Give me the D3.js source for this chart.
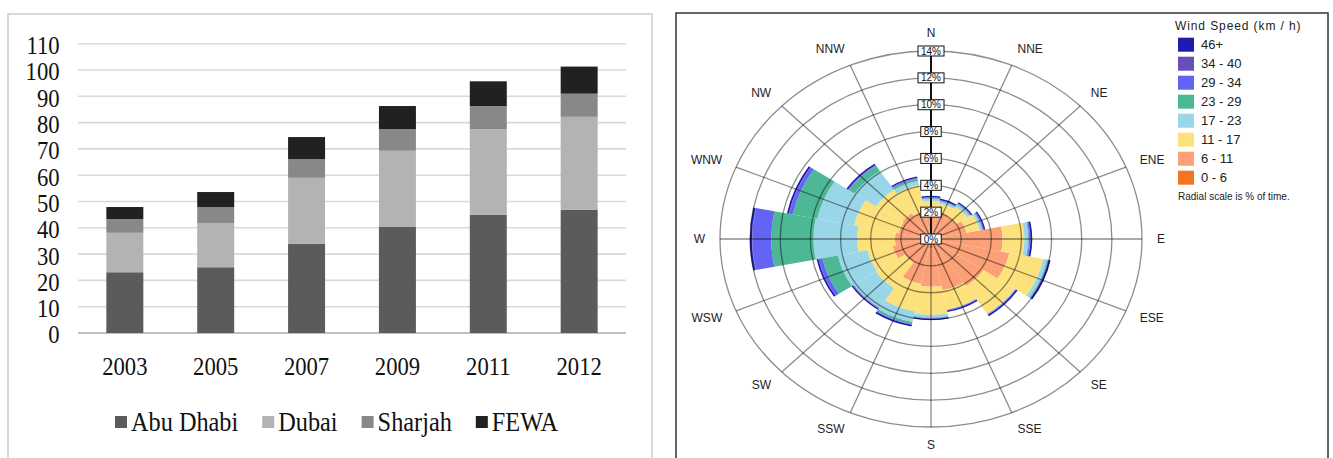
<!DOCTYPE html>
<html>
<head>
<meta charset="utf-8">
<script src="https://cdn.jsdelivr.net/npm/d3@7"></script>
<style>
  body { margin: 0; background: #fff; }
  svg { display: block; }
</style>
</head>
<body>
<svg id="chart" width="1333" height="458"></svg>
<script>
'use strict';
// ---- left chart data (stacked bars) ----
const years = ['2003', '2005', '2007', '2009', '2011', '2012'];
const utilities = ['Abu Dhabi', 'Dubai', 'Sharjah', 'FEWA'];
const abuDhabi = [23.1, 25.0, 33.9, 40.3, 45.0, 46.9];
const dubai = [15.0, 16.8, 25.1, 29.0, 32.5, 35.3];
const sharjah = [5.2, 6.1, 7.1, 8.2, 8.8, 8.8];
const fewa = [4.6, 5.7, 8.4, 8.8, 9.4, 10.3];
const yTicks = [0, 10, 20, 30, 40, 50, 60, 70, 80, 90, 100, 110];

// ---- right chart data (wind rose, % of time) ----
const directions = ['N', 'NNE', 'NE', 'ENE', 'E', 'ESE', 'SE', 'SSE',
  'S', 'SSW', 'SW', 'WSW', 'W', 'WNW', 'NW', 'NNW'];
const speedBins = ['0 - 6', '6 - 11', '11 - 17', '17 - 23', '23 - 29', '29 - 34', '34 - 40', '46+'];
const spd0to6 =   [0.3, 0.3, 0.3, 0.3, 0.3, 0.3, 0.3, 0.5, 0.7, 0.3, 0.3, 0.3, 0.3, 0.3, 0.3, 0.3];
const spd6to11 =  [1.7, 1.8, 1.7, 2.1, 4.45, 5.0, 3.9, 3.4, 2.85, 3.1, 1.8, 2.3, 2.1, 1.9, 2.0, 1.8];
const spd11to17 = [0.85, 0.6, 0.9, 0.9, 1.45, 2.3, 2.5, 1.45, 2.1, 2.1, 2.3, 1.7, 2.5, 3.0, 2.1, 2.0];
const spd17to23 = [0.15, 0.15, 0.2, 0.15, 0.25, 0.25, 0.02, 0.03, 0.2, 0.8, 1.75, 2.0, 2.9, 2.5, 1.7, 0.3];
const spd23to29 = [0.05, 0.05, 0.05, 0.05, 0.05, 0.05, 0.02, 0.02, 0.03, 0.15, 0.03, 1.05, 2.8, 1.65, 0.45, 0.15];
const spd29to34 = [0.05, 0.05, 0.03, 0.05, 0.07, 0.05, 0.03, 0.03, 0.04, 0.05, 0.04, 0.25, 1.25, 0.25, 0.05, 0.07];
const spd34to40 = [0.02, 0.02, 0.02, 0.02, 0.03, 0.02, 0.02, 0.02, 0.02, 0.02, 0.02, 0.02, 0.03, 0.03, 0.03, 0.03];
const spd46plus = [0.1, 0.1, 0.1, 0.1, 0.12, 0.12, 0.12, 0.1, 0.1, 0.12, 0.1, 0.12, 0.14, 0.12, 0.12, 0.1];
const ringTicks = [0, 2, 4, 6, 8, 10, 12, 14];

// colours
const barColors = ['#5b5b5b', '#b3b3b3', '#888888', '#212121'];
const binColors = ['#f27621', '#fba077', '#fde17c', '#98d6e8', '#4cb895', '#6363f5', '#6550b8', '#1c1cae'];

const svg = d3.select('#chart');
const serif = "'Liberation Serif', 'Times New Roman', serif";
const sans = "'Liberation Sans', Arial, sans-serif";
const squash = 0.87; // the serif text in the picture is narrower than normal

// ================= LEFT: stacked bars =================
svg.append('rect')
  .attr('x', 8).attr('y', 14).attr('width', 644).attr('height', 470)
  .attr('fill', 'none').attr('stroke', '#d9d9d9').attr('stroke-width', 2);

const x = d3.scaleBand().domain(years).range([78, 626])
  .paddingInner(0.593).paddingOuter(0.312);
const y = d3.scaleLinear().domain([0, 110]).range([333, 43.7]);

// gridlines
svg.append('g')
  .selectAll('line')
  .data(yTicks)
  .join('line')
  .attr('x1', 78).attr('x2', 626)
  .attr('y1', d => y(d)).attr('y2', d => y(d))
  .attr('stroke', d => d === 0 ? '#bfbfbf' : '#d9d9d9')
  .attr('stroke-width', d => d === 0 ? 2 : 1.6);

// y labels
svg.append('g')
  .selectAll('text')
  .data(yTicks)
  .join('text')
  .attr('transform', d => `translate(59.5,${y(d) + 10.4}) scale(${squash},1)`)
  .attr('text-anchor', 'end')
  .attr('font-family', serif).attr('font-size', 26).attr('fill', '#111')
  .text(d => d);

// bars
const barRows = years.map((yr, i) => ({
  year: yr, 'Abu Dhabi': abuDhabi[i], Dubai: dubai[i], Sharjah: sharjah[i], FEWA: fewa[i]
}));
const barStack = d3.stack().keys(utilities)(barRows);
svg.append('g')
  .selectAll('g')
  .data(barStack)
  .join('g')
  .attr('fill', (d, i) => barColors[i])
  .selectAll('rect')
  .data(d => d)
  .join('rect')
  .attr('x', d => x(d.data.year))
  .attr('width', x.bandwidth())
  .attr('y', d => y(d[1]))
  .attr('height', d => y(d[0]) - y(d[1]));

// x labels
svg.append('g')
  .selectAll('text')
  .data(years)
  .join('text')
  .attr('transform', d => `translate(${x(d) + x.bandwidth() / 2},375) scale(${squash},1)`)
  .attr('text-anchor', 'middle')
  .attr('font-family', serif).attr('font-size', 26).attr('fill', '#111')
  .text(d => d);

// legend (laid out left to right by measured text widths)
let lx = 115;
const legSquash = 0.9;
utilities.forEach((u, i) => {
  svg.append('rect')
    .attr('x', lx).attr('y', 416).attr('width', 12).attr('height', 12)
    .attr('fill', barColors[i]);
  const t = svg.append('text')
    .attr('transform', `translate(${lx + 16},431) scale(${legSquash},1)`)
    .attr('font-family', serif).attr('font-size', 27).attr('fill', '#111')
    .text(u);
  lx += 16 + t.node().getComputedTextLength() * legSquash + 24;
});

// ================= RIGHT: wind rose =================
svg.append('rect')
  .attr('x', 676).attr('y', 13).attr('width', 652).attr('height', 470)
  .attr('fill', 'none').attr('stroke', '#333').attr('stroke-width', 1.5);

const cx = 931, cy = 239;
const rs = d3.scaleLinear().domain([0, 14]).range([0, 188]);
const sx = 211 / 188; // the rose is stretched horizontally in the picture
const ang = d3.scaleBand().domain(directions).range([-Math.PI / 16, 2 * Math.PI - Math.PI / 16]);
const mid = d => ang(d) + ang.bandwidth() / 2;

const rose = svg.append('g').attr('transform', `translate(${cx},${cy}) scale(${sx},1)`);

const windRows = directions.map((dir, i) => {
  const row = { dir };
  [spd0to6, spd6to11, spd11to17, spd17to23, spd23to29, spd29to34, spd34to40, spd46plus]
    .forEach((arr, k) => { row[speedBins[k]] = arr[i]; });
  return row;
});
const windStack = d3.stack().keys(speedBins)(windRows);

const arc = d3.arc()
  .innerRadius(d => rs(d[0]))
  .outerRadius(d => rs(d[1]))
  .startAngle(d => ang(d.data.dir))
  .endAngle(d => ang(d.data.dir) + ang.bandwidth());

rose.append('g')
  .selectAll('g')
  .data(windStack)
  .join('g')
  .attr('fill', (d, i) => binColors[i])
  .selectAll('path')
  .data(d => d)
  .join('path')
  .attr('d', arc);

// grid on top of the wedges
const grid = rose.append('g')
  .attr('fill', 'none').attr('stroke', '#000').attr('stroke-opacity', 0.45);
grid.selectAll('circle')
  .data(ringTicks.filter(v => v > 0))
  .join('circle')
  .attr('r', d => rs(d))
  .attr('stroke-width', 1.3)
  .attr('vector-effect', 'non-scaling-stroke');
grid.selectAll('line')
  .data(directions)
  .join('line')
  .attr('x1', 0).attr('y1', 0)
  .attr('x2', d => rs(14) * Math.sin(mid(d)))
  .attr('y2', d => -rs(14) * Math.cos(mid(d)))
  .attr('stroke-width', 1.3)
  .attr('vector-effect', 'non-scaling-stroke');

rose.append('line')
  .attr('x1', 0).attr('y1', 0).attr('x2', 0).attr('y2', -rs(14))
  .attr('stroke', '#111').attr('stroke-width', 2)
  .attr('vector-effect', 'non-scaling-stroke');

// % labels in boxes on the N spoke
ringTicks.forEach(v => {
  const g = svg.append('g').attr('transform', `translate(${cx},${cy - rs(v)})`);
  const r = g.append('rect').attr('fill', '#fff').attr('stroke', '#111').attr('stroke-width', 1);
  const t = g.append('text')
    .attr('y', 3.6)
    .attr('text-anchor', 'middle')
    .attr('font-family', sans).attr('font-size', 10).attr('fill', '#111')
    .text(`${v}%`);
  const w = t.node().getComputedTextLength() + 6;
  r.attr('x', -w / 2).attr('y', -5).attr('width', w).attr('height', 10);
});

// direction labels
svg.append('g')
  .selectAll('text')
  .data(directions)
  .join('text')
  .attr('x', d => cx + 226 * Math.sin(mid(d)))
  .attr('y', d => cy - 206 * Math.cos(mid(d)))
  .attr('dominant-baseline', 'central')
  .attr('text-anchor', d => {
    const s = Math.sin(mid(d));
    return Math.abs(s) < 0.01 ? 'middle' : (s > 0 ? 'start' : 'end');
  })
  .attr('font-family', sans).attr('font-size', 12).attr('fill', '#222')
  .text(d => d);

// legend
svg.append('text')
  .attr('x', 1175).attr('y', 30)
  .attr('font-family', sans).attr('font-size', 12).attr('letter-spacing', 0.9).attr('fill', '#222')
  .text('Wind Speed (km / h)');
const legendOrder = speedBins.map((b, i) => ({ b, c: binColors[i] })).reverse();
const leg = svg.append('g')
  .selectAll('g')
  .data(legendOrder)
  .join('g')
  .attr('transform', (d, i) => `translate(1178,${44.7 + i * 19})`);
leg.append('rect')
  .attr('x', 0).attr('y', -7).attr('width', 16).attr('height', 14)
  .attr('fill', d => d.c);
leg.append('text')
  .attr('x', 23).attr('y', 4.7)
  .attr('font-family', sans).attr('font-size', 13).attr('fill', '#222')
  .text(d => d.b);
svg.append('text')
  .attr('x', 1178).attr('y', 200)
  .attr('font-family', sans).attr('font-size', 10).attr('fill', '#222')
  .text('Radial scale is % of time.');
</script>
</body>
</html>
